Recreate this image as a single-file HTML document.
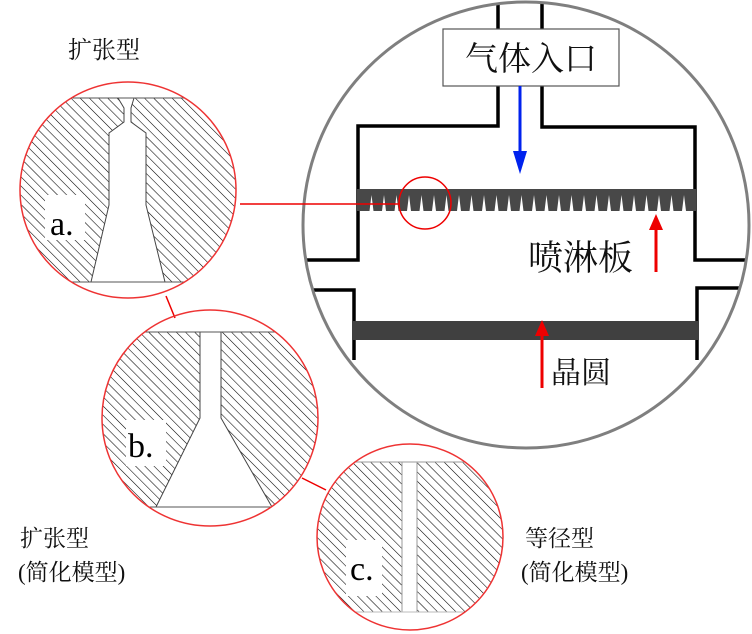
<!DOCTYPE html>
<html><head><meta charset="utf-8"><style>
html,body{margin:0;padding:0;background:#fff;}
svg{display:block;}
text{font-family:"Liberation Serif","Noto Serif CJK SC","Noto Sans CJK SC",serif;}
</style></head><body>
<svg width="752" height="634" viewBox="0 0 752 634" xmlns="http://www.w3.org/2000/svg">
<defs>
<pattern id="h" width="6.5" height="6.5" patternUnits="userSpaceOnUse" patternTransform="rotate(-45)">
<line x1="0" y1="0" x2="0" y2="6.5" stroke="#000" stroke-width="1.1"/>
</pattern>
<clipPath id="ca"><circle cx="128" cy="190" r="108"/></clipPath>
<clipPath id="cb"><circle cx="210" cy="418" r="108"/></clipPath>
<clipPath id="cc"><circle cx="410" cy="537" r="93"/></clipPath>
<clipPath id="cbig"><circle cx="526" cy="225" r="223"/></clipPath>
</defs>

<g clip-path="url(#cbig)" stroke="#000" stroke-width="3.5" fill="none">
<polyline points="498,0 498,126 358,126 358,260 300,260"/>
<polyline points="542,0 542,127 695,127 695,260 752,260"/>
<polyline points="300,290 354,290 354,360"/>
<polyline points="752,288 697,288 697,360"/>
</g>
<rect x="357" y="189" width="339" height="22" fill="#484848"/>
<rect x="353" y="321" width="345" height="19" fill="#404040"/>
<rect x="443" y="29" width="176" height="57" fill="#fff" stroke="#555" stroke-width="1.2"/>
<text x="531" y="70" font-size="33" text-anchor="middle" font-family="'Noto Sans CJK SC',sans-serif" fill="#111">气体入口</text>
<line x1="520" y1="86" x2="520" y2="155" stroke="#0022ee" stroke-width="3"/>
<polygon points="513,151 527,151 520,174" fill="#0022ee"/>
<line x1="656" y1="228" x2="656" y2="272" stroke="#ee0000" stroke-width="3"/>
<polygon points="649,230 663,230 656,214" fill="#ee0000"/>
<line x1="542" y1="334" x2="542" y2="388" stroke="#ee0000" stroke-width="3"/>
<polygon points="535,336 549,336 542,320" fill="#ee0000"/>
<text x="528" y="270" font-size="35" font-family="'Noto Sans CJK SC',sans-serif" fill="#111">喷淋板</text>
<text x="551" y="383" font-size="30" font-family="'Noto Sans CJK SC',sans-serif" fill="#111">晶圆</text>

<g fill="#fff">
<polygon points="382,211 386,211 384,195"/><polygon points="394.5,211 398.5,211 396.5,195"/>
<polygon points="407,211 411,211 409,195"/><polygon points="419.5,211 423.5,211 421.5,195"/>
<polygon points="432,211 436,211 434,195"/><polygon points="444.5,211 448.5,211 446.5,195"/>
<polygon points="457,211 461,211 459,195"/><polygon points="469.5,211 473.5,211 471.5,195"/>
<polygon points="482,211 486,211 484,195"/><polygon points="494.5,211 498.5,211 496.5,195"/>
<polygon points="507,211 511,211 509,195"/><polygon points="519.5,211 523.5,211 521.5,195"/>
<polygon points="532,211 536,211 534,195"/><polygon points="544.5,211 548.5,211 546.5,195"/>
<polygon points="557,211 561,211 559,195"/><polygon points="569.5,211 573.5,211 571.5,195"/>
<polygon points="582,211 586,211 584,195"/><polygon points="594.5,211 598.5,211 596.5,195"/>
<polygon points="607,211 611,211 609,195"/><polygon points="619.5,211 623.5,211 621.5,195"/>
<polygon points="632,211 636,211 634,195"/><polygon points="644.5,211 648.5,211 646.5,195"/>
<polygon points="657,211 661,211 659,195"/><polygon points="669.5,211 673.5,211 671.5,195"/>
<polygon points="682,211 686,211 684,195"/><polygon points="369.5,211 373.5,211 371.5,195"/>
</g>
<circle cx="526" cy="225" r="223" fill="none" stroke="#7f7f7f" stroke-width="3"/>
<circle cx="425" cy="203" r="26" fill="none" stroke="#ee0000" stroke-width="1.5"/>

<line x1="240" y1="204" x2="400" y2="204" stroke="#ee0000" stroke-width="1.5"/>
<line x1="166" y1="296" x2="175" y2="318" stroke="#ee0000" stroke-width="1.5"/>
<line x1="302" y1="478" x2="326" y2="490" stroke="#ee0000" stroke-width="1.5"/>

<g clip-path="url(#ca)">
<rect x="0" y="98" width="260" height="184" fill="url(#h)"/>
<polygon points="118,98 134,98 131,108 131,122 146,133 146,205 165,282 91,282 109,205 109,133 124,122 124,108" fill="#fff" stroke="#444" stroke-width="1"/>
<line x1="0" y1="98" x2="260" y2="98" stroke="#555"/>
<line x1="0" y1="282" x2="260" y2="282" stroke="#555"/>
<rect x="45" y="195" width="40" height="45" fill="#fff"/>
</g>
<text x="50" y="235" font-size="34" fill="#000">a.</text>
<circle cx="128" cy="190" r="108" fill="none" stroke="#ee3333" stroke-width="1.5"/>

<g clip-path="url(#cb)">
<rect x="90" y="332" width="240" height="175" fill="url(#h)"/>
<polygon points="200,332 221,332 221,418 272,507 156,507 200,418" fill="#fff" stroke="#444" stroke-width="1"/>
<line x1="90" y1="332" x2="330" y2="332" stroke="#555"/>
<line x1="90" y1="507" x2="330" y2="507" stroke="#555"/>
<rect x="126" y="420" width="40" height="46" fill="#fff"/>
</g>
<text x="128" y="457" font-size="34" fill="#000">b.</text>
<circle cx="210" cy="418" r="108" fill="none" stroke="#ee3333" stroke-width="1.5"/>

<g clip-path="url(#cc)">
<rect x="310" y="462" width="200" height="150" fill="url(#h)"/>
<rect x="402" y="462" width="15" height="150" fill="#fff" stroke="#999" stroke-width="1"/>
<line x1="310" y1="462" x2="510" y2="462" stroke="#999"/>
<line x1="310" y1="612" x2="510" y2="612" stroke="#bbb"/>
<rect x="346" y="540" width="36" height="56" fill="#fff"/>
</g>
<text x="350" y="580" font-size="34" fill="#000">c.</text>
<circle cx="410" cy="537" r="93" fill="none" stroke="#ee3333" stroke-width="1.5"/>

<text x="68" y="58" font-size="24" font-family="'Noto Sans CJK SC',sans-serif" fill="#111">扩张型</text>
<text x="20" y="546" font-size="23" fill="#111">扩张型</text>
<text x="18" y="580" font-size="23" fill="#111">(简化模型)</text>
<text x="525" y="546" font-size="23" fill="#111">等径型</text>
<text x="521" y="580" font-size="23" fill="#111">(简化模型)</text>
</svg>
</body></html>
